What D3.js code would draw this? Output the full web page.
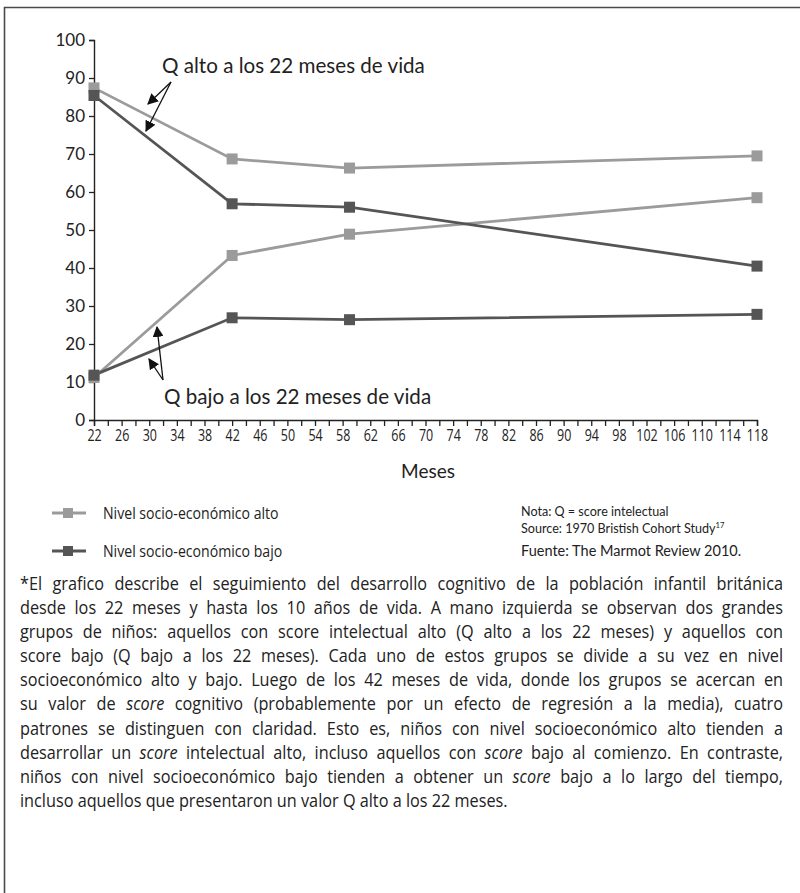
<!DOCTYPE html>
<html>
<head>
<meta charset="utf-8">
<script src="https://cdn.jsdelivr.net/npm/d3@7"></script>
<style>
  html, body { margin: 0; padding: 0; background: #fff; }
  svg { display: block; }
</style>
</head>
<body>
<div id="chart"></div>
<script>
// ---------- DATA ----------
const months = [22, 42, 59, 118];
const highSES_highQ = [87.4, 68.7, 66.3, 69.5];
const lowSES_highQ  = [85.4, 56.9, 56.0, 40.5];
const highSES_lowQ  = [11.2, 43.3, 48.9, 58.5];
const lowSES_lowQ   = [11.8, 26.9, 26.4, 27.8];
const yTicks = [0, 10, 20, 30, 40, 50, 60, 70, 80, 90, 100];
const xLabelTicks = d3.range(22, 119, 4);
const xMinorTicks = d3.range(22, 119, 2);
const seriesNames = ["Nivel socio-económico alto", "Nivel socio-económico bajo"];
const annotHigh = "Q alto a los 22 meses de vida";
const annotLow = "Q bajo a los 22 meses de vida";
const xTitle = "Meses";
const noteLines = ["Nota: Q = score intelectual", "Source: 1970 Bristish Cohort Study"];
const fuente = "Fuente: The Marmot Review 2010.";
const paragraph = [
  "*El grafico describe el seguimiento del desarrollo cognitivo de la población infantil británica",
  "desde los 22 meses y hasta los 10 años de vida. A mano izquierda se observan dos grandes",
  "grupos de niños: aquellos con score intelectual alto (Q alto a los 22 meses) y aquellos con",
  "score bajo (Q bajo a los 22 meses). Cada uno de estos grupos se divide a su vez en nivel",
  "socioeconómico alto y bajo. Luego de los 42 meses de vida, donde los grupos se acercan en",
  "su valor de _score_ cognitivo (probablemente por un efecto de regresión a la media), cuatro",
  "patrones se distinguen con claridad. Esto es, niños con nivel socioeconómico alto tienden a",
  "desarrollar un _score_ intelectual alto, incluso aquellos con _score_ bajo al comienzo. En contraste,",
  "niños con nivel socioeconómico bajo tienden a obtener un _score_ bajo a lo largo del tiempo,",
  "incluso aquellos que presentaron un valor Q alto a los 22 meses."
];

// ---------- SETUP ----------
const W = 800, H = 893;
const lightC = "#9b9b9b", darkC = "#555555";
const mainFont = "Lato, 'Open Sans', sans-serif";
const condFont = "'Open Sans', 'Noto Sans', sans-serif";

const svg = d3.select("#chart").append("svg").attr("width", W).attr("height", H);
svg.append("rect").attr("width", W).attr("height", H).attr("fill", "#fff");

// frame
svg.append("path").attr("d", `M4.5,${H} V7.5 H${W}`).attr("fill", "none")
  .attr("stroke", "#4a4a4a").attr("stroke-width", 1.6);

const x = d3.scaleLinear().domain([22, 118]).range([94, 757]);
const y = d3.scaleLinear().domain([0, 100]).range([420, 40]);

// axes
const yAxis = d3.axisLeft(y).tickValues(yTicks).tickSize(5).tickPadding(4);
const gy = svg.append("g").attr("transform", `translate(${x(22)},0)`).call(yAxis);
gy.selectAll("text").attr("font-family", mainFont).attr("font-size", 17).attr("fill", "#222");
gy.select(".domain").attr("stroke", "#222").attr("stroke-width", 1.4);
gy.selectAll(".tick line").attr("stroke", "#222").attr("stroke-width", 1.3);

const gxMinor = svg.append("g").attr("transform", `translate(0,${y(0)})`)
  .call(d3.axisBottom(x).tickValues(xMinorTicks).tickSize(6).tickFormat(""));
gxMinor.select(".domain").attr("stroke", "#222").attr("stroke-width", 1.4);
gxMinor.selectAll(".tick line").attr("stroke", "#222").attr("stroke-width", 1.3);

const gx = svg.append("g").attr("transform", `translate(0,${y(0)})`)
  .call(d3.axisBottom(x).tickValues(xLabelTicks).tickSize(6).tickPadding(4));
gx.select(".domain").remove();
gx.selectAll(".tick line").remove();
gx.selectAll("text").attr("font-family", condFont).attr("font-size", 16).attr("fill", "#222")
  .attr("transform", "scale(0.78,1)");

svg.append("text").attr("x", 428).attr("y", 478).attr("text-anchor", "middle")
  .attr("font-family", mainFont).attr("font-size", 19).attr("fill", "#222").text(xTitle);

// series
const series = [
  { vals: highSES_highQ, color: lightC },
  { vals: highSES_lowQ, color: lightC },
  { vals: lowSES_highQ, color: darkC },
  { vals: lowSES_lowQ, color: darkC }
];
const line = d3.line().x(d => x(d[0])).y(d => y(d[1]));
series.forEach(s => {
  const pts = months.map((m, i) => [m, s.vals[i]]);
  svg.append("path").datum(pts).attr("d", line).attr("fill", "none")
    .attr("stroke", s.color).attr("stroke-width", 2.8);
});
series.forEach(s => {
  const pts = months.map((m, i) => [m, s.vals[i]]);
  svg.selectAll(null).data(pts).enter().append("rect")
    .attr("x", d => x(d[0]) - 5.5).attr("y", d => y(d[1]) - 5.5)
    .attr("width", 11).attr("height", 11).attr("fill", s.color);
});

// arrows
const defs = svg.append("defs");
defs.append("marker").attr("id", "ah").attr("viewBox", "0 0 10 10")
  .attr("refX", 9).attr("refY", 5).attr("markerWidth", 11).attr("markerHeight", 11)
  .attr("markerUnits", "userSpaceOnUse").attr("orient", "auto")
  .append("path").attr("d", "M0,0 L10,5 L0,10 Z").attr("fill", "#111");
const arrows = [
  [[171, 82], [148, 104]],
  [[171, 82], [146, 131]],
  [[163, 380], [157, 327]],
  [[163, 380], [149, 359]]
];
arrows.forEach(a => {
  svg.append("line").attr("x1", a[0][0]).attr("y1", a[0][1]).attr("x2", a[1][0]).attr("y2", a[1][1])
    .attr("stroke", "#111").attr("stroke-width", 1.3).attr("marker-end", "url(#ah)");
});

svg.append("text").attr("x", 162).attr("y", 73).attr("font-family", mainFont)
  .attr("font-size", 20.6).attr("fill", "#222").text(annotHigh);
svg.append("text").attr("x", 164).attr("y", 404).attr("font-family", mainFont)
  .attr("font-size", 20.6).attr("fill", "#222").text(annotLow);

// helper for horizontally condensed text
function condText(xp, yp, size, sx, str, fam) {
  return svg.append("text").attr("transform", `translate(${xp},${yp}) scale(${sx},1)`)
    .attr("font-family", fam || condFont).attr("font-size", size).attr("fill", "#222").text(str);
}

// legend
const legY = [513, 551];
[lightC, darkC].forEach((c, i) => {
  svg.append("line").attr("x1", 52).attr("x2", 86).attr("y1", legY[i]).attr("y2", legY[i])
    .attr("stroke", c).attr("stroke-width", 2.8);
  svg.append("rect").attr("x", 63).attr("y", legY[i] - 5).attr("width", 10).attr("height", 10).attr("fill", c);
  condText(103, legY[i] + 6, 17, 0.83, seriesNames[i]);
});

// notes
condText(521, 516, 14, 0.9, noteLines[0], mainFont);
const src = condText(521, 533, 14, 0.9, "", mainFont);
src.append("tspan").text(noteLines[1]);
src.append("tspan").attr("font-size", 8.5).attr("dy", -5).text("17");
svg.append("text").attr("x", 521).attr("y", 556).attr("font-family", mainFont)
  .attr("font-size", 14.5).attr("fill", "#222").text(fuente);

// paragraph (justified)
const pLeft = 20, pRight = 783, pTop = 590, pStep = 24.1, pSize = 17.5, pSx = 0.93;
const pg = svg.append("g").attr("transform", `scale(${pSx},1)`);
const measurer = pg.append("text").attr("font-family", condFont).attr("font-size", pSize)
  .attr("x", -1000).attr("y", -1000);
function wordWidth(w, italic) {
  measurer.attr("font-style", italic ? "italic" : "normal").text(w);
  return measurer.node().getComputedTextLength();
}
measurer.attr("font-style", "normal").text("a a");
const spaceW = measurer.node().getComputedTextLength() - 2 * wordWidth("a", false);
paragraph.forEach((ln, li) => {
  const words = ln.split(" ").map(w => ({ t: w.replace(/_/g, ""), it: /^_/.test(w) }));
  const widths = words.map(w => wordWidth(w.t, w.it));
  const total = d3.sum(widths);
  const last = li === paragraph.length - 1;
  const span = (pRight - pLeft) / pSx;
  let gap = last ? spaceW : (span - total) / (words.length - 1);
  gap = Math.max(gap, 1.6);
  const t = pg.append("text").attr("y", pTop + li * pStep).attr("font-family", condFont)
    .attr("font-size", pSize).attr("fill", "#222");
  let cx = pLeft / pSx;
  words.forEach((w, i) => {
    t.append("tspan").attr("x", cx).attr("font-style", w.it ? "italic" : "normal")
      .text(w.t + (i < words.length - 1 ? " " : ""));
    cx += widths[i] + gap;
  });
});
measurer.remove();
</script>
</body>
</html>
